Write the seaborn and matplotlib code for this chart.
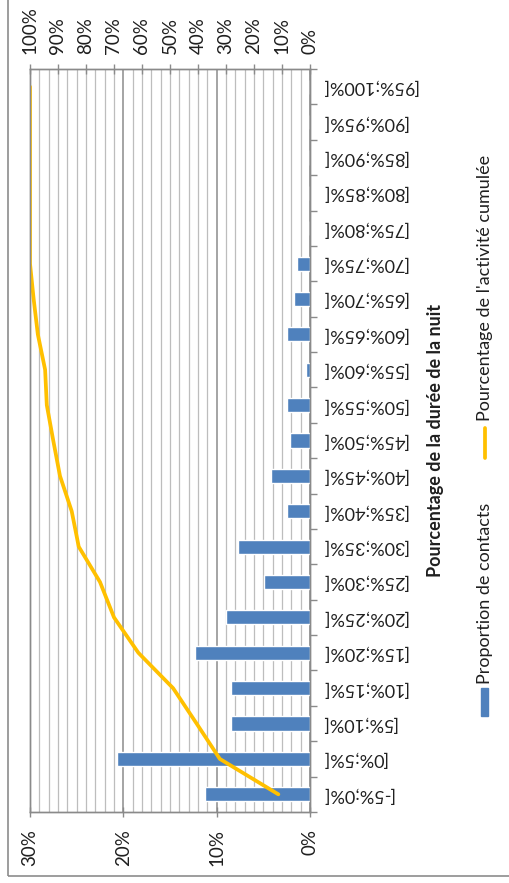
import pandas as pd
import matplotlib.pyplot as plt
import matplotlib.ticker as mticker
from matplotlib.patches import Rectangle
from matplotlib.lines import Line2D
import seaborn as sns

# Excel-like look, the whole chart is turned a quarter turn
sns.set_style('white')
plt.rcParams['font.family'] = ['Lato', 'DejaVu Sans']

categories = ['[-5%;0%[', '[0%;5%[', '[5%;10%[', '[10%;15%[', '[15%;20%[',
              '[20%;25%[', '[25%;30%[', '[30%;35%[', '[35%;40%[', '[40%;45%[',
              '[45%;50%[', '[50%;55%[', '[55%;60%[', '[60%;65%[', '[65%;70%[',
              '[70%;75%[', '[75%;80%[', '[80%;85%[', '[85%;90%[', '[90%;95%[',
              '[95%;100%[']
proportion = [11.2, 20.7, 8.5, 8.5, 12.3, 9.0, 4.9, 7.7, 2.5, 4.2, 2.1,
              2.5, 0.4, 2.5, 1.7, 1.4, 0, 0, 0, 0, 0]
cumulee = [11.3, 32.2, 40.5, 48.9, 61.3, 70.0, 75.0, 82.6, 85.1, 89.3, 91.7,
           94.0, 94.6, 97.2, 98.7, 100, 100, 100, 100, 100, 100]

BLUE = '#4F81BD'
GOLD = '#FFC000'
GRID = '#bdbdbd'
AXIS = '#8a8a8a'
TXT = '#1f1f1f'
W, H = 509, 883

df = pd.DataFrame({'tranche': categories,
                   'proportion': [v / 100 for v in proportion],
                   'cumulee': [v / 100 for v in cumulee]})
df['pos'] = range(len(df))

fig = plt.figure(figsize=(W / 100, H / 100), dpi=100)
ax = fig.add_axes([30 / W, 1 - 812 / H, 280 / W, 743 / H])

sns.barplot(data=df, x='proportion', y='tranche', order=categories, orient='h',
            color=BLUE, saturation=1, width=0.4, ax=ax, zorder=3)
ax.set_xlim(0.30, 0)
ax.set_ylim(-0.5, len(categories) - 0.5)
ax.set_xlabel('')

# gridlines every 1 %, darker every 10 %
ax.set_axisbelow(True)
ax.xaxis.set_major_locator(mticker.MultipleLocator(0.1))
ax.xaxis.set_minor_locator(mticker.MultipleLocator(0.01))
ax.xaxis.set_major_formatter(mticker.PercentFormatter(1, decimals=0))
ax.grid(which='minor', axis='x', color=GRID, lw=0.9)
ax.grid(which='major', axis='x', color='#8c8c8c', lw=1.1)
ax.tick_params(axis='x', which='major', direction='inout', length=7, width=1,
               color=AXIS, labelsize=13.5, labelcolor=TXT, pad=9, labelrotation=90)
ax.tick_params(axis='x', which='minor', length=0)

# categories on the right, upside down
ax.yaxis.tick_right()
ax.set_yticks(range(len(categories)))
ax.set_yticklabels(categories, rotation=180, ha='left', va='center')
ax.yaxis.set_minor_locator(mticker.FixedLocator([p - 0.5 for p in range(len(categories) + 1)]))
ax.tick_params(axis='y', which='major', length=0, labelsize=13, labelcolor=TXT, pad=8)
ax.tick_params(axis='y', which='minor', direction='out', length=5, width=1, color=AXIS)
ax.yaxis.set_label_position('right')
ax.set_ylabel('Pourcentage de la durée de la nuit', fontsize=13, fontweight='bold',
              color=TXT, rotation=90, labelpad=7)

# cumulative activity on the secondary axis
ax2 = ax.twiny()
sns.lineplot(data=df, x='cumulee', y='pos', orient='y', sort=False, estimator=None,
             color=GOLD, lw=2.7, ax=ax2)
ax2.set_xlim(1.0, 0)
ax2.set_ylim(-0.5, len(categories) - 0.5)
ax2.set_xlabel('')
ax2.set_ylabel('')
ax2.xaxis.set_major_locator(mticker.MultipleLocator(0.1))
ax2.xaxis.set_major_formatter(mticker.PercentFormatter(1, decimals=0))
ax2.tick_params(axis='x', which='major', direction='inout', length=7, width=1,
                color=AXIS, labelsize=13.5, labelcolor=TXT, pad=7, labelrotation=90)
ax2.tick_params(axis='y', left=False, right=False, labelleft=False, labelright=False)

for a in (ax, ax2):
    for s in a.spines.values():
        s.set_color(AXIS)
        s.set_linewidth(1)

# legend, drawn by hand because it is turned too
fig.add_artist(Rectangle((481 / W, 1 - 716 / H), 7 / W, 28 / H,
                         transform=fig.transFigure, color=BLUE))
fig.text(485 / W, 1 - 684 / H, 'Proportion de contacts', rotation=90,
         ha='center', va='bottom', fontsize=13, color=TXT)
fig.add_artist(Line2D([485 / W, 485 / W], [1 - 458 / H, 1 - 428 / H],
                      transform=fig.transFigure, color=GOLD, lw=2.7))
fig.text(485 / W, 1 - 421 / H, "Pourcentage de l'activité cumulée", rotation=90,
         ha='center', va='bottom', fontsize=13, color=TXT)

# chart border
fig.add_artist(Rectangle((8 / W, 1 - 876 / H), 1, 1, transform=fig.transFigure,
                         fill=False, ec='#8c8c8c', lw=1.2))

fig.savefig('out.png', dpi=100)
